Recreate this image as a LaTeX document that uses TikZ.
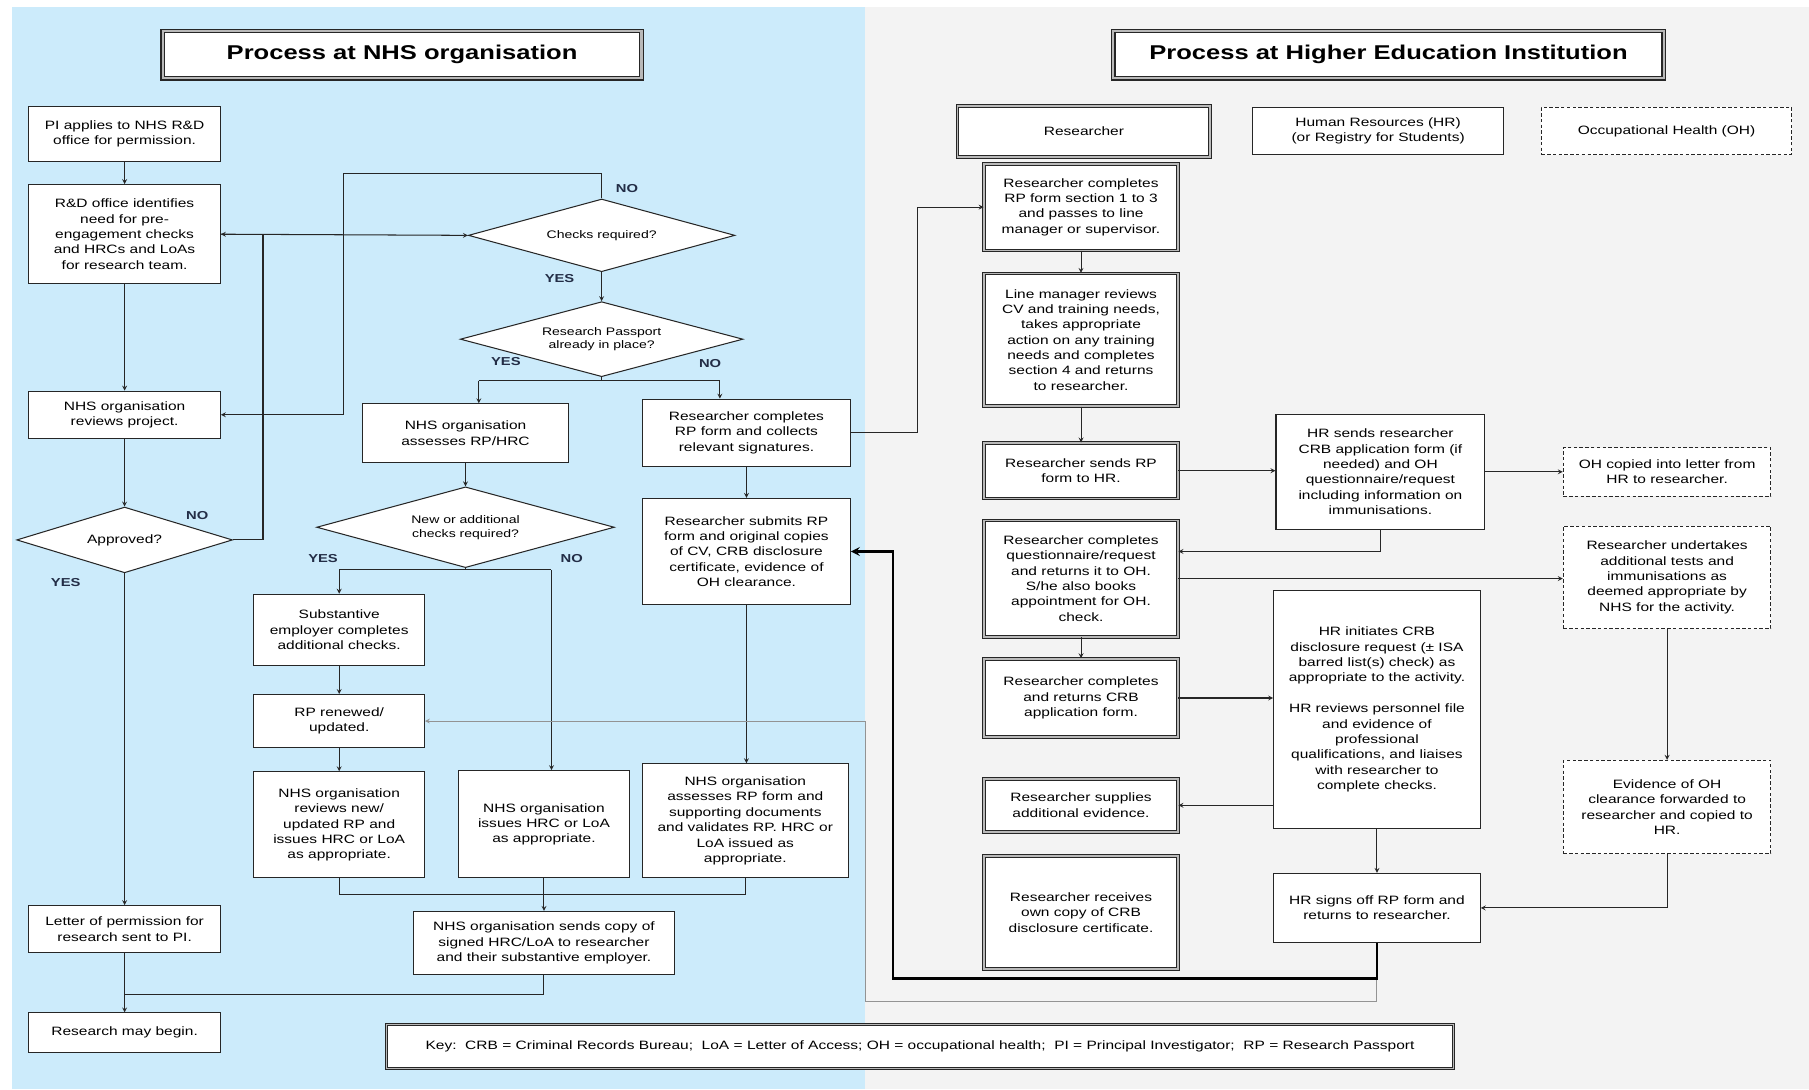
\documentclass[tikz,border=0pt]{standalone}
\usepackage{tikz}
\usepackage{xcolor}
\usepackage{fontspec}
\setmainfont[FakeStretch=1.28]{Liberation Sans}
\usetikzlibrary{shapes.geometric}

\definecolor{nhsblue}{RGB}{204,235,251}
\definecolor{heigrey}{RGB}{243,243,243}
\definecolor{lblcol}{RGB}{35,45,70}

\newcommand{\boxfont}{\fontsize{10.5}{13.3}\selectfont}
\newcommand{\smlfont}{\fontsize{9.5}{12}\selectfont}
\newcommand{\ttlfont}{\fontsize{17.3}{20}\selectfont\bfseries}
\newcommand{\lblfont}{\fontsize{10}{12}\selectfont\bfseries}

\tikzset{
  box/.style={draw=black!85, line width=0.9pt, fill=white, align=center, inner sep=1pt, font=\boxfont},
  rbox/.style={box, double=gray!55, double distance=1.3pt},
  ttl/.style={rbox, line width=1pt, double distance=1.8pt, font=\ttlfont},
  ohbox/.style={box, dash pattern=on 3pt off 2pt},
  dec/.style={box, shape=diamond, inner sep=0pt, aspect=3.7},
  lbl/.style={font=\lblfont, text=lblcol},
  conn/.style={draw=black!85, line width=0.9pt},
  arr/.style={conn, ->, >=stealth},
  bigarr/.style={conn, draw=black, line width=2.4pt, ->, >=stealth},
  greyarr/.style={conn, draw=gray!85, line width=0.8pt, ->, >=stealth}
}

\begin{document}
\begin{tikzpicture}[x=1pt, y=-1pt]
        \useasboundingbox (0,0) rectangle (1568,944);
        \fill[nhsblue] (10,6) rectangle (750,944);
        \fill[heigrey] (750,6) rectangle (1568,944);

        \node[ttl, minimum width=415pt, minimum height=41pt] (tnhs) at (348.5,47.5) {Process at NHS organisation};
        \node[ttl, minimum width=477pt, minimum height=41pt] (thei) at (1203.5,47.5) {Process at Higher Education Institution};

        % NHS organisation
        \node[box, minimum width=166pt, minimum height=48pt] (pi) at (108,116) {PI applies to NHS R\&D\\office for permission.};
        \node[box, minimum width=166pt, minimum height=86pt] (rnd) at (108,203) {R\&D office identifies\\need for pre-\\engagement checks\\and HRCs and LoAs\\for research team.};
        \node[box, minimum width=166pt, minimum height=41pt] (rev) at (108,359.5) {NHS organisation\\reviews project.};
        \node[dec, aspect=3.3, minimum width=187pt, minimum height=57pt] (appr) at (108,468) {Approved?};
        \node[box, minimum width=166pt, minimum height=41pt] (letter) at (108,805.5) {Letter of permission for\\research sent to PI.};
        \node[box, minimum width=166pt, minimum height=34pt] (begin) at (108,895) {Research may begin.};

        \node[dec, font=\smlfont, minimum width=231pt, minimum height=63pt] (checks) at (521.5,204) {Checks required?};
        \node[dec, font=\smlfont, minimum width=245pt, minimum height=65pt] (rpip) at (521.5,294) {Research Passport\\already in place?};
        \node[box, minimum width=179pt, minimum height=51pt] (assess) at (403.5,375.5) {NHS organisation\\assesses RP/HRC};
        \node[box, minimum width=180pt, minimum height=58pt] (rpform) at (647,375) {Researcher completes\\RP form and collects\\relevant signatures.};
        \node[dec, font=\smlfont, minimum width=258pt, minimum height=70pt] (newchk) at (403.5,457) {New or additional\\checks required?};
        \node[box, minimum width=148pt, minimum height=62pt] (subst) at (294,546) {Substantive\\employer completes\\additional checks.};
        \node[box, minimum width=148pt, minimum height=46pt] (renew) at (294,625) {RP renewed/\\updated.};
        \node[box, minimum width=180pt, minimum height=92pt] (submit) at (647,478) {Researcher submits RP\\form and original copies\\of CV, CRB disclosure\\certificate, evidence of\\OH clearance.};
        \node[box, minimum width=148pt, minimum height=92pt] (revnew) at (294,715) {NHS organisation\\reviews new/\\updated RP and\\issues HRC or LoA\\as appropriate.};
        \node[box, minimum width=149pt, minimum height=93pt] (issue) at (471.5,714.5) {NHS organisation\\issues HRC or LoA\\as appropriate.};
        \node[box, minimum width=179pt, minimum height=99pt] (valid) at (646,711.5) {NHS organisation\\assesses RP form and\\supporting documents\\and validates RP. HRC or\\LoA issued as\\appropriate.};
        \node[box, minimum width=227pt, minimum height=55pt] (sends) at (471.5,817.5) {NHS organisation sends copy of\\signed HRC/LoA to researcher\\and their substantive employer.};

        \node[lbl] (apprno) at (171,447) {NO};
        \node[lbl] (appryes) at (57,505) {YES};
        \node[lbl] (chkno) at (543.5,163) {NO};
        \node[lbl] (chkyes) at (485,241) {YES};
        \node[lbl] (rpyeslbl) at (438.5,313.5) {YES};
        \node[lbl] (rpnolbl) at (615.5,315.5) {NO};
        \node[lbl] (ncyeslbl) at (280,484) {YES};
        \node[lbl] (ncnolbl) at (495.5,484) {NO};

        \draw[arr] (pi) -- (rnd);
        \draw[arr] (rnd) -- (rev);
        \draw[arr] (rev) -- (appr);
        \draw[arr] (appr) -- (letter);
        \draw[arr] (letter) -- (begin);
        \draw[arr] (appr.east) -- ++(26,0) |- (rnd.east);
        \draw[arr] (rnd.east) -- (checks.west);
        \coordinate (noturn) at (298,150);
        \draw[arr] (checks.north) |- (noturn) |- (rev.east);
        \draw[arr] (checks) -- (rpip);
        \coordinate (rpyes) at (415,330);
        \coordinate (rpno) at (624,330);
        \draw[conn] (rpip.south) -- (rpip.south |- rpyes);
        \draw[conn] (rpyes) -- (rpno);
        \draw[arr] (rpyes) -- (rpyes |- assess.north);
        \draw[arr] (rpno) -- (rpno |- rpform.north);
        \draw[arr] (assess) -- (newchk);
        \coordinate (ncyes) at (294,494);
        \coordinate (ncno) at (478,494);
        \draw[conn] (newchk.south) -- (newchk.south |- ncyes);
        \draw[conn] (ncyes) -- (ncno);
        \draw[arr] (ncyes) -- (subst.north);
        \draw[arr] (ncno) -- (ncno |- issue.north);
        \draw[arr] (subst) -- (renew);
        \draw[arr] (renew) -- (revnew);
        \draw[arr] (rpform) -- (submit);
        \draw[arr] (submit.south) -- (submit.south |- valid.north);
        \coordinate (jn) at (471.5,775);
        \draw[conn] (revnew.south) |- (jn) -| (valid.south);
        \draw[arr] (issue) -- (sends);
        \coordinate (jb) at (108,862);
        \draw[conn] (sends.south) |- (jb);

        % Higher Education Institution
        \node[rbox, minimum width=219pt, minimum height=44pt] (hres) at (939.5,114) {Researcher};
        \node[box, minimum width=217pt, minimum height=41pt] (hhr) at (1194.5,113.5) {Human Resources (HR)\\(or Registry for Students)};
        \node[ohbox, minimum width=217pt, minimum height=41pt] (hoh) at (1444.5,113.5) {Occupational Health (OH)};

        \node[rbox, minimum width=168pt, minimum height=75pt] (rsec) at (937,179.5) {Researcher completes\\RP form section 1 to 3\\and passes to line\\manager or supervisor.};
        \node[rbox, minimum width=168pt, minimum height=115pt] (rline) at (937,294.5) {Line manager reviews\\CV and training needs,\\takes appropriate\\action on any training\\needs and completes\\section 4 and returns\\to researcher.};
        \node[rbox, minimum width=168pt, minimum height=48pt] (rsend) at (937,408) {Researcher sends RP\\form to HR.};
        \node[rbox, minimum width=168pt, minimum height=101pt] (rquest) at (937,501.5) {Researcher completes\\questionnaire/request\\and returns it to OH.\\S/he also books\\appointment for OH.\\check.};
        \node[rbox, minimum width=168pt, minimum height=68pt] (rcrb) at (937,605) {Researcher completes\\and returns CRB\\application form.};
        \node[rbox, minimum width=168pt, minimum height=46pt] (rsupp) at (937,698) {Researcher supplies\\additional evidence.};
        \node[rbox, minimum width=168pt, minimum height=98pt] (rcopy) at (937,791) {Researcher receives\\own copy of CRB\\disclosure certificate.};

        \node[box, minimum width=181pt, minimum height=100pt] (hrcrb) at (1196.5,409) {HR sends researcher\\CRB application form (if\\needed) and OH\\questionnaire/request\\including information on\\immunisations.};
        \node[box, minimum width=179pt, minimum height=206pt] (hrchk) at (1193.5,615) {HR initiates CRB\\disclosure request (± ISA\\barred list(s) check) as\\appropriate to the activity.\\[\baselineskip]HR reviews personnel file\\and evidence of\\professional\\qualifications, and liaises\\with researcher to\\complete checks.};
        \node[box, minimum width=179pt, minimum height=60pt] (hrsign) at (1193.5,787) {HR signs off RP form and\\returns to researcher.};

        \node[ohbox, minimum width=180pt, minimum height=42pt] (ohcopy) at (1445,409) {OH copied into letter from\\HR to researcher.};
        \node[ohbox, minimum width=180pt, minimum height=89pt] (ohtest) at (1445,500.5) {Researcher undertakes\\additional tests and\\immunisations as\\deemed appropriate by\\NHS for the activity.};
        \node[ohbox, minimum width=180pt, minimum height=81pt] (ohclear) at (1445,699.5) {Evidence of OH\\clearance forwarded to\\researcher and copied to\\HR.};

        \draw[arr] (rpform.east) -- ++(58,0) |- (rsec.west);
        \draw[arr] (rsec) -- (rline);
        \draw[arr] (rline) -- (rsend);
        \draw[arr] (rsend.east) -- (rsend.east -| hrcrb.west);
        \draw[arr] (hrcrb.east) -- (hrcrb.east -| ohcopy.west);
        \draw[arr] (hrcrb.south) |- ([yshift=23.5pt]rquest.east);
        \draw[arr] (rquest.east) -- (rquest.east -| ohtest.west);
        \draw[arr] (rquest) -- (rcrb);
        \draw[arr] (rcrb.east) -- (rcrb.east -| hrchk.west);
        \draw[arr] (rsupp.east -| hrchk.west) -- (rsupp.east);
        \draw[arr] (hrchk) -- (hrsign);
        \draw[arr] (ohtest) -- (ohclear);
        \draw[arr] (ohclear.south) |- (hrsign.east);
        \coordinate (tn) at (750,868);
        \draw[greyarr] (hrsign.south) |- (tn) |- (renew.east);
        \coordinate (tk) at (774,848);
        \draw[bigarr] (hrsign.south) |- (tk) |- (submit.east);

        \node[rbox, minimum width=925pt, minimum height=38pt] (key) at (797.5,907) {Key:\ \ CRB = Criminal Records Bureau;\ \ LoA = Letter of Access; OH = occupational health;\ \ PI = Principal Investigator;\ \ RP = Research Passport};
\end{tikzpicture}
\end{document}
